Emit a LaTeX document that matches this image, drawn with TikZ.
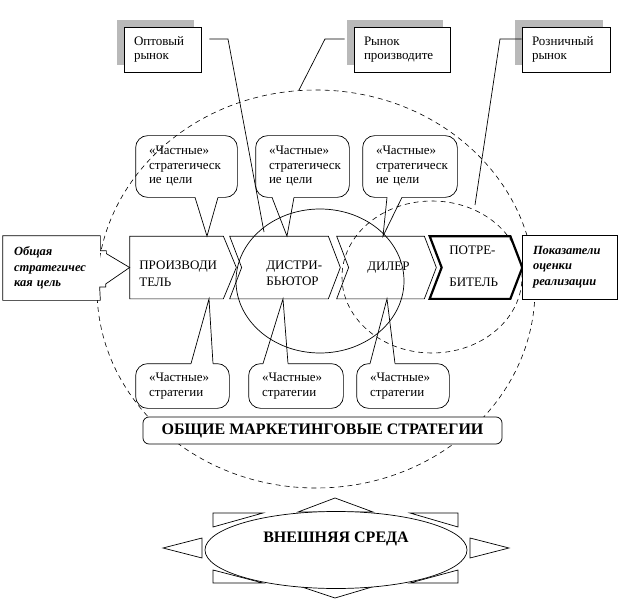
\documentclass[tikz,border=0pt]{standalone}
\usepackage{fontspec}
\setmainfont{Liberation Serif}
\usetikzlibrary{positioning}
\usetikzlibrary{shapes.geometric}
\usetikzlibrary{shadows}

\begin{document}
\begin{tikzpicture}
	[x=1pt, y=-1pt, line width=0.7pt,
	 every node/.style={font=\fontsize{13}{14.5}\selectfont},
	 chev/.style={minimum width=#1, minimum height=62pt, inner sep=0pt},
	 lbl/.style={anchor=west, inner sep=0pt, align=left},
	 note/.style={draw, fill=white, text width=#1, inner xsep=10pt, minimum height=45pt, align=left,
		general shadow={fill=gray!55, shadow xshift=-7pt, shadow yshift=7pt}},
	 upbubble/.style={text width=#1, inner xsep=13pt, minimum height=61pt, align=left},
	 lowbubble/.style={text width=#1, inner xsep=13pt, minimum height=44pt, align=left},
	 sideframe/.style={fill=white, minimum width=97pt, minimum height=64pt, text width=75pt, inner xsep=11pt, align=left,
		font=\fontsize{12.5}{15.5}\selectfont\bfseries\itshape},
	 circ/.style={dash pattern=on 5pt off 4pt, line width=0.6pt}]
	\useasboundingbox (0,0) rectangle (630,602);

	\draw[circ] (316,289) ellipse [x radius=219pt, y radius=199pt];
	\draw (320,281) ellipse [x radius=84pt, y radius=72pt];
	\draw[circ] (432,277) ellipse [x radius=90pt, y radius=76pt];

	\node[chev=106pt] (prod) at (183,267.5) {};
	\node[chev=110pt] (dist) at (285,267.5) {};
	\node[chev=99pt] (deal) at (386.5,267.5) {};
	\node[chev=92pt] (cons) at (476,267.5) {};

	\draw (prod.north west) -- ([xshift=-13pt]prod.north east) -- (prod.east) -- ([xshift=-13pt]prod.south east) -- (prod.south west) -- cycle;
	\draw (dist.north west) -- ([xshift=-12pt]dist.north east) -- (dist.east) -- ([xshift=-12pt]dist.south east) -- (dist.south west) -- ([xshift=12pt]dist.west) -- cycle;
	\draw (deal.north west) -- ([xshift=-12pt]deal.north east) -- (deal.east) -- ([xshift=-12pt]deal.south east) -- (deal.south west) -- ([xshift=12pt]deal.west) -- cycle;
	\draw[line width=2.2pt] (cons.north west) -- ([xshift=-12pt]cons.north east) -- (cons.east) -- ([xshift=-12pt]cons.south east) -- (cons.south west) -- ([xshift=12pt]cons.west) -- cycle;

	\node[lbl] (prodt) at (139,273.5) {ПРОИЗВОДИ\\[2.5pt]ТЕЛЬ};
	\node[lbl] (distt) at (266,273) {ДИСТРИ-\\[1.5pt]БЬЮТОР};
	\node[lbl] (dealt) at (367,267.5) {ДИЛЕР};
	\node[lbl] (const) at (449,266) {ПОТРЕ-\\[17.5pt]БИТЕЛЬ};

	\node[sideframe] (goal) at (51.5,268) {Общая\\стратегичес\\кая цель};
	\draw (goal.north west) -- (goal.north east) -- ++(0,15) -- ++(6,0) -- ++(0,3) -- (prod.west) -- ++(-24,16.5) -- ++(0,3) -- ++(-6,0) -- (goal.south east) -- (goal.south west) -- cycle;
	\node[sideframe, draw, minimum width=95pt, text width=73pt] (score) at (569.5,267) {Показатели\\оценки\\реализации};

	\node[upbubble=75pt] (aim1) at (186.5,166.5) {«Частные»\\стратегическ\\ие цели};
	\node[upbubble=67pt] (aim2) at (302.5,166.5) {«Частные»\\стратегическ\\ие цели};
	\node[upbubble=68pt] (aim3) at (410,166.5) {«Частные»\\стратегическ\\ие цели};
	\draw[rounded corners=12pt] ([xshift=8.5pt]aim1.south) -- (aim1.south west) -- (aim1.north west) -- (aim1.north east) -- (aim1.south east) -- ([xshift=31.5pt]aim1.south);
	\draw ([xshift=8.5pt]aim1.south) -- ([xshift=24pt]prod.north) -- ([xshift=31.5pt]aim1.south);
	\draw[rounded corners=12pt] ([xshift=-30.5pt]aim2.south) -- (aim2.south west) -- (aim2.north west) -- (aim2.north east) -- (aim2.south east) -- ([xshift=-8.5pt]aim2.south);
	\draw ([xshift=-30.5pt]aim2.south) -- ([xshift=2pt]dist.north) -- ([xshift=-8.5pt]aim2.south);
	\draw[rounded corners=12pt] ([xshift=-23pt]aim3.south) -- (aim3.south west) -- (aim3.north west) -- (aim3.north east) -- (aim3.south east) -- ([xshift=-8pt]aim3.south);
	\draw ([xshift=-23pt]aim3.south) -- ([xshift=-3.5pt]deal.north) -- ([xshift=-8pt]aim3.south);

	\node[lowbubble=67pt] (way1) at (182.5,386) {«Частные»\\стратегии};
	\node[lowbubble=68pt] (way2) at (296,386) {«Частные»\\стратегии};
	\node[lowbubble=66pt] (way3) at (403,386) {«Частные»\\стратегии};
	\draw[rounded corners=12pt] ([xshift=8.5pt]way1.north) -- (way1.north west) -- (way1.south west) -- (way1.south east) -- (way1.north east) -- ([xshift=30.5pt]way1.north);
	\draw ([xshift=8.5pt]way1.north) -- ([xshift=26pt]prod.south) -- ([xshift=30.5pt]way1.north);
	\draw[rounded corners=12pt] ([xshift=-33pt]way2.north) -- (way2.north west) -- (way2.south west) -- (way2.south east) -- (way2.north east) -- ([xshift=-8pt]way2.north);
	\draw ([xshift=-33pt]way2.north) -- ([xshift=-2pt]dist.south) -- ([xshift=-8pt]way2.north);
	\draw[rounded corners=12pt] ([xshift=-33pt]way3.north) -- (way3.north west) -- (way3.south west) -- (way3.south east) -- (way3.north east) -- ([xshift=-8pt]way3.north);
	\draw ([xshift=-33pt]way3.north) -- ([xshift=0.5pt]deal.south) -- ([xshift=-8pt]way3.north);

	\node[note=57pt] (whole) at (162.5,49.5) {Оптовый\\рынок};
	\node[note=76pt] (maker) at (402,49.5) {Рынок\\производите};
	\node[note=68pt] (retail) at (566,49.5) {Розничный\\рынок};
	\coordinate (wholek) at (228,39);
	\coordinate (wholee) at (264,232);
	\coordinate (makerk) at (325,39);
	\coordinate (makere) at (299,90);
	\coordinate (retailk) at (500,39);
	\coordinate (retaile) at (475,205);
	\draw ([xshift=8pt,yshift=10.5pt]whole.east) -- (wholek) -- (wholee);
	\draw ([xshift=-9pt,yshift=10.5pt]maker.west) -- (makerk) -- (makere);
	\draw ([yshift=10.5pt]retail.west) -- (retailk) -- (retaile);

	\node[draw, fill=white, rounded corners=6pt, minimum width=359pt, minimum height=27pt,
		font=\fontsize{16}{19}\selectfont\bfseries] (market) at (322.5,430.5) {ОБЩИЕ МАРКЕТИНГОВЫЕ СТРАТЕГИИ};

	\coordinate (envc) at (336,550);
	\begin{scope}[shift={(envc)}]
		\draw (-38,-38) -- (-1,-52) -- (37,-38) -- cycle;
		\draw (-34,37) -- (-1,48) -- (36,37) -- cycle;
		\draw (-134,-12) -- (-173,-2) -- (-134,8) -- cycle;
		\draw (134,-12) -- (173,-2) -- (134,8) -- cycle;
		\draw (-123,-37) -- (-73,-37) -- (-123,-23) -- cycle;
		\draw (122,-37) -- (74,-37) -- (122,-23) -- cycle;
		\draw (-123,20) -- (-73,33) -- (-123,33) -- cycle;
		\draw (122,20) -- (74,33) -- (122,33) -- cycle;
	\end{scope}
	\node[draw, fill=white, ellipse, minimum width=262pt, minimum height=77pt,
		font=\fontsize{16}{19}\selectfont\bfseries] (env) at (envc) {\raisebox{13pt}[11pt][0pt]{ВНЕШНЯЯ СРЕДА}};
\end{tikzpicture}
\end{document}
